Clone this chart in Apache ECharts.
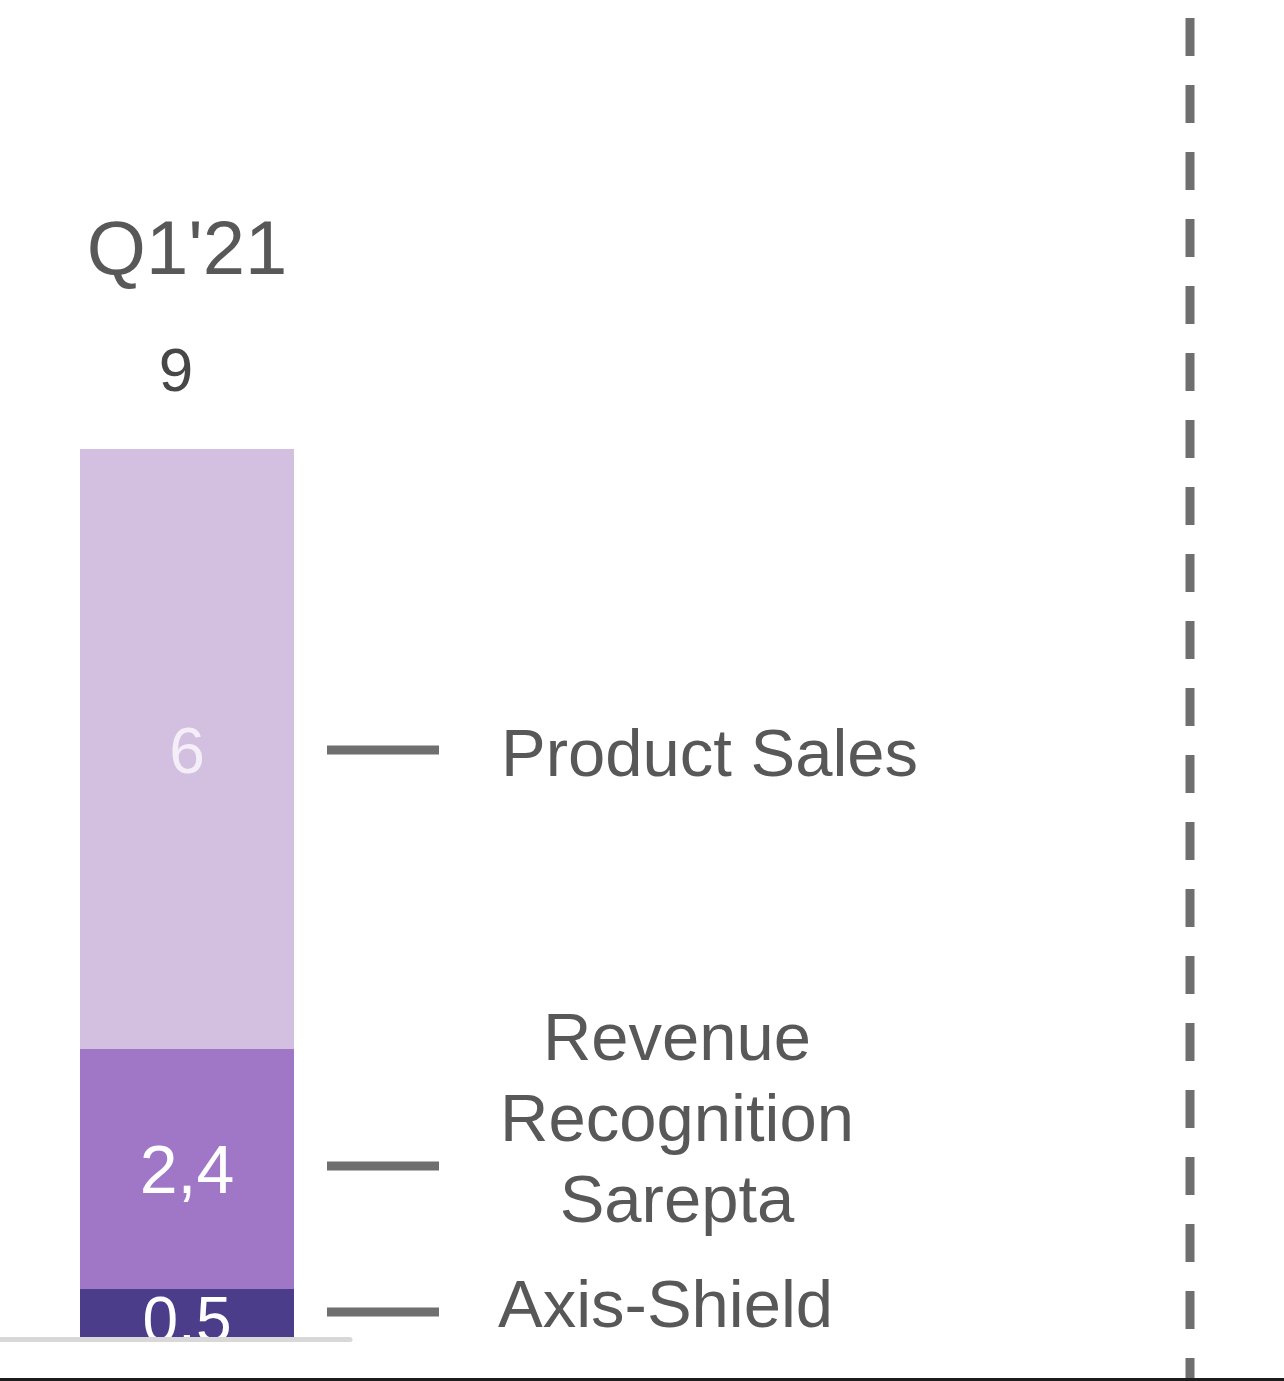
<!DOCTYPE html>
<html><head><meta charset="utf-8">
<script src="https://cdn.jsdelivr.net/npm/echarts@6/dist/echarts.min.js"></script>
<style>html,body{margin:0;padding:0;background:#fff}#c{width:1284px;height:1381px}</style>
</head><body><div id="c"></div><script>
// ---- data ----
const categories = ["Q1'21"];
const axisShield = [0.5];
const revenueRecognition = [2.4];
const productSales = [6];
const totals = [9];
const segmentNames = ['Axis-Shield', 'Revenue\nRecognition\nSarepta', 'Product Sales'];

// ---- styles ----
const FONT = '"Liberation Sans", Arial, Helvetica, sans-serif';
const TEXT = '#585858';
const colors = ['#4c3d8b', '#a077c7', '#d3c0e1'];
const BAR_W = 214;

const segments = [axisShield, revenueRecognition, productSales];
// annotation rows: [categoryIndex, base, value, segmentIndex]
const annData = [];
let base = 0;
segments.forEach((arr, k) => { annData.push([0, base, arr[0], k]); base += arr[0]; });
const annStyle = [
  {dy: -5, lineDy: -2, align: 'left', dx: 204},
  {dy: -46, lineDy: -3, align: 'center', dx: 383},
  {dy: 9, lineDy: 1, align: 'left', dx: 207}
];

const chart = echarts.init(document.getElementById('c'), null, {renderer: 'canvas'});
const labelBase = {fontFamily: FONT, fontSize: 64, color: '#ffffff'};
chart.setOption({
  animation: false,
  backgroundColor: '#ffffff',
  grid: [
    {left: 0, width: 374, top: 339, bottom: 42},
    {left: 0, width: 350, top: 339, bottom: 42}
  ],
  xAxis: [
    {type: 'category', gridIndex: 0, data: categories, position: 'top',
     axisLine: {show: false}, axisTick: {show: false},
     axisLabel: {fontFamily: FONT, fontSize: 76, color: TEXT, margin: 48}},
    {type: 'category', gridIndex: 1, data: categories, position: 'bottom', z: 10,
     axisLine: {show: true, lineStyle: {color: '#d8d8d8', width: 5}},
     axisTick: {show: false}, axisLabel: {show: false}}
  ],
  yAxis: [
    {type: 'value', gridIndex: 0, min: 0, max: 10, show: false},
    {type: 'value', gridIndex: 1, min: 0, max: 10, show: false}
  ],
  series: [
    {name: 'Axis-Shield', type: 'bar', stack: 'a', barWidth: BAR_W, data: axisShield,
     itemStyle: {color: colors[0]},
     label: Object.assign({show: true, position: 'inside', offset: [0, 10],
       formatter: p => String(p.value)}, labelBase)},
    {name: 'Revenue Recognition Sarepta', type: 'bar', stack: 'a', barWidth: BAR_W, data: revenueRecognition,
     itemStyle: {color: colors[1]},
     label: Object.assign({show: true, position: 'inside', offset: [0, 5],
       formatter: p => String(p.value).replace('.', ',')}, labelBase, {fontSize: 68})},
    {name: 'Product Sales', type: 'bar', stack: 'a', barWidth: BAR_W, data: productSales,
     itemStyle: {color: colors[2]},
     label: Object.assign({show: true, position: 'inside', offset: [0, 6],
       formatter: p => String(p.value)}, labelBase, {color: '#f4eef8'})},
    {name: 'Total', type: 'bar', stack: 'a', barWidth: BAR_W, data: totals.map(() => 0),
     itemStyle: {color: 'rgba(0,0,0,0)'},
     label: {show: true, position: 'top', distance: 44, offset: [-11, 0], fontFamily: FONT, fontSize: 62, color: '#474747',
       formatter: p => String(totals[p.dataIndex])}},
    {name: 'annotations', type: 'custom', xAxisIndex: 0, yAxisIndex: 0, clip: false, z: 5,
     data: annData,
     renderItem: function (params, api) {
       const k = api.value(3);
       const mid = api.coord([api.value(0), api.value(1) + api.value(2) / 2]);
       const xr = mid[0] + BAR_W / 2;
       const st = annStyle[k];
       return {type: 'group', children: [
         {type: 'line', shape: {x1: xr + 33, y1: mid[1] + st.lineDy, x2: xr + 145, y2: mid[1] + st.lineDy},
          style: {stroke: '#6f6f6f', lineWidth: 9}},
         {type: 'text', style: {text: segmentNames[k], x: xr + st.dx, y: mid[1] + st.dy,
          textAlign: st.align, textVerticalAlign: 'middle', fontFamily: FONT, fontSize: 67,
          lineHeight: 81, fill: TEXT}}
       ]};
     }}
  ],
  graphic: [
    {type: 'line', shape: {x1: 1190, y1: 18, x2: 1190, y2: 1381},
     style: {stroke: '#6f6f6f', lineWidth: 9, lineDash: [38, 29]}},
    {type: 'rect', shape: {x: 0, y: 1378, width: 1284, height: 3}, style: {fill: '#1c1c1c'}, z: 20}
  ]
});
</script></body></html>
